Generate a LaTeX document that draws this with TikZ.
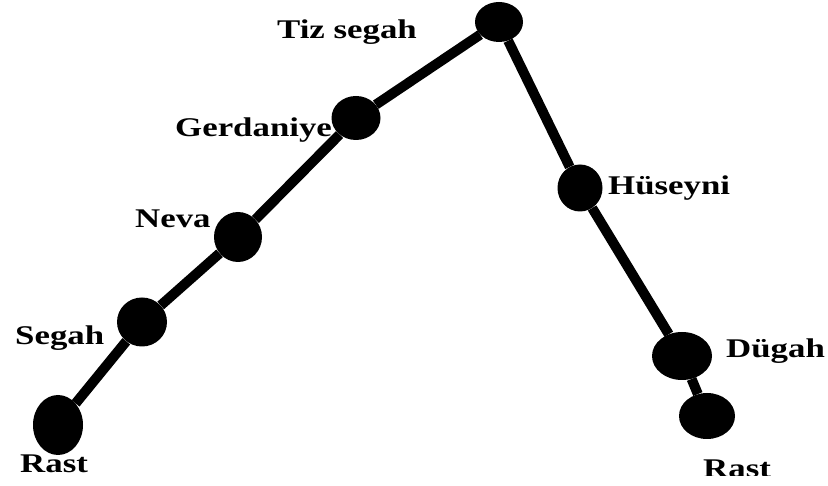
\documentclass[tikz,border=0pt]{standalone}
\usepackage{fontspec}
\setmainfont{Liberation Serif}[FakeStretch=1.29]
\usetikzlibrary{shapes.geometric}

\tikzset{
  tone/.style={ellipse, fill=black, inner sep=0pt},
  tonelabel/.style={black, anchor=base west, inner sep=0pt, font=\fontsize{27}{31}\selectfont\bfseries},
  toneline/.style={black, line width=10pt}
}

\begin{document}
\begin{tikzpicture}[x=1pt, y=-1pt]
    \useasboundingbox (0,0) rectangle (828,486);
    % Draw the tones
    \node[tone, minimum width=50pt, minimum height=60pt] (rastl) at (58,425) {};
    \node[tone, minimum width=50pt, minimum height=49pt] (segah) at (142,322) {};
    \node[tone, minimum width=48pt, minimum height=50pt] (neva) at (238,237) {};
    \node[tone, minimum width=49pt, minimum height=44pt] (gerdaniye) at (356,118) {};
    \node[tone, minimum width=48pt, minimum height=40pt] (tiz) at (499,22) {};
    \node[tone, minimum width=45pt, minimum height=47pt] (huseyni) at (580,188) {};
    \node[tone, minimum width=60pt, minimum height=48pt] (dugah) at (682,356) {};
    \node[tone, minimum width=56pt, minimum height=46pt] (rastr) at (707,416) {};
    % Draw the path
    \draw[toneline] (rastl) -- (segah) -- (neva) -- (gerdaniye) -- (tiz);
    \draw[toneline] (tiz) -- (huseyni) -- (dugah) -- (rastr);
    % Labels
    \node[tonelabel] (tizlabel) at (277,39) {Tiz segah};
    \node[tonelabel] (gerdaniyelabel) at (175,137) {Gerdaniye};
    \node[tonelabel] (nevalabel) at (135,228) {Neva};
    \node[tonelabel] (segahlabel) at (15,345) {Segah};
    \node[tonelabel] (rastllabel) at (20,472) {Rast};
    \node[tonelabel] (huseynilabel) at (608,195) {Hüseyni};
    \node[tonelabel] (dugahlabel) at (726,358) {Dügah};
    \begin{scope}
      \clip (0,0) rectangle (828,475);
      \node[tonelabel] (rastrlabel) at (703,478) {Rast};
    \end{scope}
\end{tikzpicture}
\end{document}
